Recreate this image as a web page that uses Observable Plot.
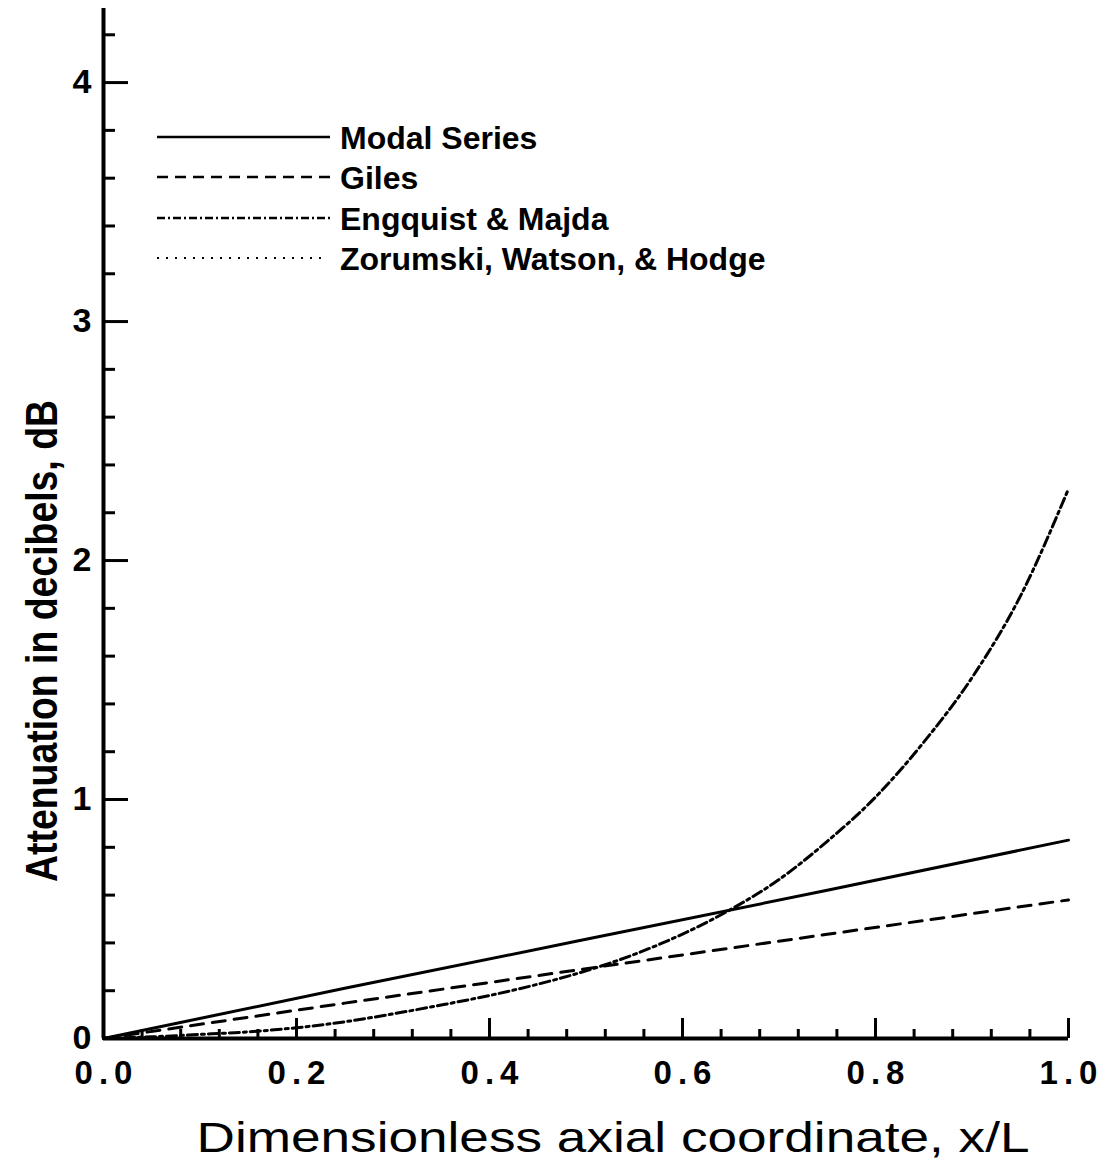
<!DOCTYPE html>
<html><head><meta charset="utf-8">
<script src="https://cdn.jsdelivr.net/npm/d3@7"></script>
<script src="https://cdn.jsdelivr.net/npm/@observablehq/plot@0.6"></script>
<style>
body{margin:0;background:#fff;}
#chart{position:relative;width:1103px;height:1164px;}
g[aria-label="x-axis tick label"] text{letter-spacing:6px;font-weight:bold;font-size:33px !important;}
g[aria-label="y-axis tick label"] text{font-weight:bold;font-size:34px !important;}
</style></head><body><div id="chart"></div>
<script>
// ---- data ----
const seriesNames = ["Modal Series", "Giles", "Engquist & Majda", "Zorumski, Watson, & Hodge"];

const modalX = [0, 0.25, 0.5, 0.75, 1.0];
const modalY = [0, 0.21, 0.415, 0.62, 0.83];

const gilesX = [0, 0.25, 0.5, 0.75, 1.0];
const gilesY = [0, 0.148, 0.292, 0.436, 0.58];

const engquistX = [0, 0.05, 0.1, 0.15, 0.2, 0.25, 0.3, 0.35, 0.4, 0.45, 0.5, 0.55, 0.6, 0.65, 0.7, 0.75, 0.8, 0.85, 0.9, 0.95, 1.0];
const engquistY = [0, 0.007, 0.017, 0.028, 0.045, 0.07, 0.103, 0.14, 0.18, 0.227, 0.283, 0.352, 0.437, 0.54, 0.665, 0.825, 1.01, 1.24, 1.51, 1.85, 2.30];

const zorumskiX = [0, 0.5, 1.0];
const zorumskiY = [0, 0, 0];

const xMajorTicks = [0, 0.2, 0.4, 0.6, 0.8, 1.0];
const xMinorTicks = [0.04, 0.08, 0.12, 0.16, 0.24, 0.28, 0.32, 0.36, 0.44, 0.48, 0.52, 0.56,
                     0.64, 0.68, 0.72, 0.76, 0.84, 0.88, 0.92, 0.96];
const yMajorTicks = [0, 1, 2, 3, 4];
const yMinorTicks = [0.2, 0.4, 0.6, 0.8, 1.2, 1.4, 1.6, 1.8, 2.2, 2.4, 2.6, 2.8,
                     3.2, 3.4, 3.6, 3.8, 4.2];

const xLabel = "Dimensionless axial coordinate, x/L";
const yLabel = "Attenuation in decibels, dB";

// ---- styles ----
const dash = {
  "Modal Series": null,
  "Giles": "13,9",
  "Engquist & Majda": "10,4,3,4",
  "Zorumski, Watson, & Hodge": "2,6"
};
const legendDash = {
  "Modal Series": null,
  "Giles": "11,7",
  "Engquist & Majda": "8,3,2,3",
  "Zorumski, Watson, & Hodge": "2,7"
};

const rows = [];
modalX.forEach((x, i) => rows.push({s: seriesNames[0], x, y: modalY[i]}));
gilesX.forEach((x, i) => rows.push({s: seriesNames[1], x, y: gilesY[i]}));
engquistX.forEach((x, i) => rows.push({s: seriesNames[2], x, y: engquistY[i]}));
zorumskiX.forEach((x, i) => rows.push({s: seriesNames[3], x, y: zorumskiY[i]}));

const W = 1103, H = 1164, mL = 103, mR = 35, mT = 8, mB = 126;
const frameW = W - mL - mR, frameH = H - mT - mB;
const font = "'Liberation Sans', Arial, Helvetica, sans-serif";

const lineMarks = seriesNames.map(name => Plot.line(rows.filter(r => r.s === name), {
  x: "x", y: "y", stroke: "black",
  strokeWidth: name === "Zorumski, Watson, & Hodge" ? 2 : 3,
  strokeDasharray: dash[name],
  curve: name === "Engquist & Majda" ? "monotone-x" : "linear"
}));

const plot = Plot.plot({
  width: W, height: H,
  marginLeft: mL, marginRight: mR, marginTop: mT, marginBottom: mB,
  x: {domain: [0, 1]},
  y: {domain: [0, 4.31]},
  style: {fontFamily: font, background: "white", color: "black"},
  marks: [
    Plot.axisX(xMajorTicks, {tickSize: 0, tickPadding: 22, tickFormat: d3.format(".1f"),
      fontSize: 33, dx: 3, label: null}),
    Plot.axisY(yMajorTicks, {tickSize: 0, tickPadding: 12, tickFormat: d3.format("d"),
      fontSize: 34, label: null}),
    Plot.tickX(xMinorTicks, {x: d => d, insetTop: frameH - 9, strokeWidth: 3}),
    Plot.tickX(xMajorTicks, {x: d => d, insetTop: frameH - 20, strokeWidth: 3}),
    Plot.tickY(yMinorTicks, {y: d => d, insetRight: frameW - 12, strokeWidth: 3}),
    Plot.tickY(yMajorTicks, {y: d => d, insetRight: frameW - 25, strokeWidth: 3}),
    ...lineMarks,
    Plot.ruleX([0], {strokeWidth: 4}),
    Plot.ruleY([0], {strokeWidth: 4})
  ]
});

const svg = d3.select(plot);

// axis titles
svg.append("text")
  .attr("x", 613).attr("y", 1152)
  .attr("text-anchor", "middle")
  .attr("font-family", font).attr("font-size", 42)
  .attr("textLength", 833).attr("lengthAdjust", "spacingAndGlyphs")
  .text(xLabel);

svg.append("text")
  .attr("transform", "translate(57,641) rotate(-90)")
  .attr("text-anchor", "middle")
  .attr("font-family", font).attr("font-size", 44).attr("font-weight", "bold")
  .attr("textLength", 482).attr("lengthAdjust", "spacingAndGlyphs")
  .text(yLabel);

// legend
const legend = svg.append("g").attr("aria-label", "legend");
const legendRowY = [137, 177, 218, 258];
seriesNames.forEach((name, i) => {
  const y = legendRowY[i];
  const last = name === "Zorumski, Watson, & Hodge";
  legend.append("line")
    .attr("x1", 157).attr("x2", last ? 322 : 330)
    .attr("y1", y).attr("y2", y)
    .attr("stroke", "black")
    .attr("stroke-width", last ? 2 : 2.5)
    .attr("stroke-dasharray", legendDash[name]);
  legend.append("text")
    .attr("x", 340).attr("y", y + 12)
    .attr("text-anchor", "start")
    .attr("font-family", font).attr("font-size", 32).attr("font-weight", "bold")
    .text(name);
});

document.getElementById("chart").appendChild(plot);
</script>
</body></html>
